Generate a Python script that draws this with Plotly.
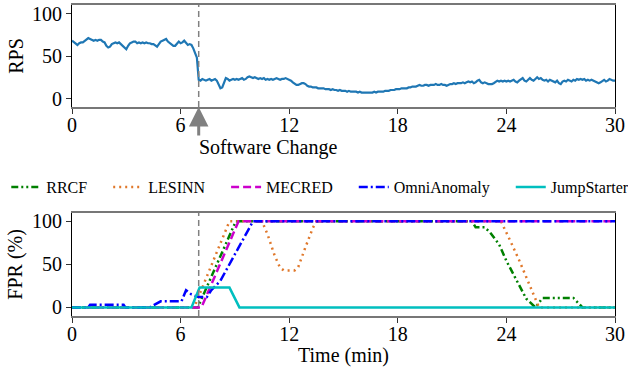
import numpy as np
import plotly.graph_objects as go

# ---------------- data ----------------
rps_values = [
    68, 66, 64, 63, 65, 66, 66, 68, 70, 71,
    70, 69, 68, 69, 68, 69, 69, 67, 66, 62,
    60, 61, 64, 65, 66, 65, 66, 64, 62, 60,
    58, 62, 65, 66, 67, 67, 65, 66, 65, 66,
    65, 66, 65, 65, 64, 64, 62, 61, 64, 67,
    68, 69, 70, 67, 65, 64, 62, 62, 65, 67,
    65, 66, 68, 66, 63, 64, 63, 59, 54, 48,
    22, 21, 23, 22, 21, 22, 23, 21, 22, 23,
    21, 16, 12, 13, 20, 24, 23, 21, 22, 23,
    22, 23, 22, 23, 24, 22, 23, 25, 26, 25,
    24, 25, 24, 23, 24, 23, 24, 22, 23, 22,
    23, 22, 23, 24, 23, 22, 23, 23, 24, 23,
    22, 21, 19, 17, 16, 16, 17, 18, 18, 17,
    15, 14, 14, 13, 13, 13, 12, 12, 12, 12,
    11, 11, 11, 10, 11, 10, 10, 9, 10, 9,
    9, 9, 8, 9, 8, 8, 8, 8, 7, 8,
    7, 7, 7, 7, 7, 7, 7, 8, 7, 8,
    8, 8, 8, 9, 9, 9, 10, 10, 10, 11,
    11, 11, 12, 12, 12, 12, 13, 13, 14, 14,
    14, 15, 16, 15, 15, 16, 16, 15, 16, 16,
    16, 17, 16, 16, 17, 16, 16, 15, 16, 17,
    17, 18, 17, 18, 18, 18, 19, 18, 19, 20,
    19, 20, 18, 19, 21, 22, 19, 18, 19, 18,
    17, 17, 17, 18, 20, 21, 20, 21, 20, 21,
    20, 21, 20, 21, 22, 20, 19, 21, 23, 24,
    21, 20, 22, 24, 22, 21, 23, 25, 23, 24,
    22, 21, 22, 20, 22, 21, 20, 19, 21, 18,
    17, 20, 21, 20, 22, 21, 20, 22, 21, 23,
    22, 23, 22, 23, 21, 22, 21, 22, 21, 20,
    19, 18, 19, 21, 22, 20, 21, 23, 22, 21,
    21,
]
rps_time = np.round(np.arange(len(rps_values)) * 0.1, 1)

methods = ["RRCF", "LESINN", "MECRED", "OmniAnomaly", "JumpStarter"]

rrcf_t = [0, 6.95, 9.05, 22.1, 22.3, 22.8, 23.1, 23.6, 24.0, 24.6, 25.1, 25.6, 26.0, 27.7, 28.2, 30]
rrcf_v = [0, 0, 100, 100, 93, 93, 87, 73, 54, 30, 10, 0, 11, 11, 0, 0]

lesinn_t = [0, 6.75, 8.7, 10.5, 10.8, 11.2, 11.5, 11.7, 12.3, 12.5, 12.9, 13.3, 13.5,
            23.7, 24.2, 24.7, 25.3, 25.8, 30]
lesinn_v = [0, 0, 100, 100, 85, 60, 46, 43, 43, 47, 70, 92, 100,
            100, 78, 55, 25, 0, 0]

mecred_t = [0, 7.15, 9.2, 30]
mecred_v = [0, 0, 100, 100]

omni_t = [0, 0.9, 1.0, 2.85, 2.95, 4.3, 4.9, 6.05, 6.3, 6.6, 7.0, 7.45, 7.7, 8.2, 10.0, 30]
omni_v = [0, 0, 3, 3, 0, 0, 7, 7, 20, 15, 12, 12, 20, 31, 100, 100]

jump_t = [0, 6.6, 7.05, 8.7, 9.25, 30]
jump_v = [0, 0, 23, 23, 0, 0]

fpr_series = [
    (rrcf_t, rrcf_v), (lesinn_t, lesinn_v), (mecred_t, mecred_v),
    (omni_t, omni_v), (jump_t, jump_v),
]
colors = ["#008000", "#e0782b", "#cc00cc", "#0000ff", "#00bfbf"]
dashes = ["7px,3px,2px,3px,2px,3px", "2px,4px", "8px,4px", "9px,3px,2px,3px", "solid"]

x_ticks = [0, 6, 12, 18, 24, 30]
y_ticks = [0, 50, 100]
change_time = 7

# ---------------- figure ----------------
FONT = "Liberation Serif"
PAD = "\u00a0" * 4
fig = go.Figure()

fig.add_trace(go.Scatter(x=rps_time, y=rps_values, mode="lines",
                         line=dict(color="#1f77b4", width=2.2),
                         showlegend=False, xaxis="x", yaxis="y"))

for i, (name, (t, v), c, d) in enumerate(zip(methods, fpr_series, colors, dashes)):
    label = name + (PAD if i < len(methods) - 1 else "")
    fig.add_trace(go.Scatter(x=t, y=v, mode="lines", name=label,
                             line=dict(color=c, width=2.5, dash=d),
                             xaxis="x2", yaxis="y2"))

axis_common = dict(ticks="outside", ticklen=5, tickwidth=1, tickcolor="#333",
                   showgrid=False, zeroline=False, automargin=False,
                   tickfont=dict(family=FONT, size=20, color="black"))

xdom = [72 / 628, 615 / 628]
fig.update_layout(
    width=628, height=367,
    margin=dict(l=0, r=0, t=0, b=0, autoexpand=False),
    paper_bgcolor="white", plot_bgcolor="white",
    font=dict(family=FONT, color="black"),
    xaxis=dict(domain=xdom, range=[0, 30], tickvals=x_ticks, anchor="y",
               showline=True, mirror=True, linecolor="#777", linewidth=2,
               ticklabelstandoff=-6, **axis_common),
    yaxis=dict(domain=[1 - 107 / 367, 1 - 5 / 367], range=[-10, 110], tickvals=y_ticks,
               anchor="x", showline=True, mirror=True, linecolor="black", linewidth=1,
               title=dict(text="RPS", font=dict(family=FONT, size=20), standoff=3),
               **axis_common),
    xaxis2=dict(domain=xdom, range=[0, 30], tickvals=x_ticks, anchor="y2",
                showline=True, mirror=True, linecolor="#777", linewidth=2,
                ticklabelstandoff=-6,
                title=dict(text="Time (min)", font=dict(family=FONT, size=20), standoff=2),
                **axis_common),
    yaxis2=dict(domain=[1 - 316 / 367, 1 - 212.7 / 367], range=[-10, 110], tickvals=y_ticks,
                anchor="x2", showline=True, mirror=True, linecolor="black", linewidth=1,
                title=dict(text="FPR (%)", font=dict(family=FONT, size=20), standoff=3),
                **axis_common),
    legend=dict(orientation="h", x=0.01, y=1 - 187 / 367, xanchor="left", yanchor="middle",
                font=dict(family=FONT, size=16), bgcolor="rgba(0,0,0,0)",
                itemwidth=30, tracegroupgap=0),
)

# vertical dashed change lines
for xr, yr in [("x", "y"), ("x2", "y2")]:
    fig.add_shape(type="line", xref=xr, yref=yr + " domain", x0=change_time, x1=change_time,
                  y0=0, y1=1, line=dict(color="#808080", width=1.5, dash="6px,4px"))

# arrow for software change
fig.add_annotation(x=change_time, y=-10, xref="x", yref="y", text="", showarrow=True,
                   ax=0, ay=30, arrowhead=2, arrowsize=1.3, arrowwidth=3,
                   arrowcolor="#808080")
fig.add_annotation(x=change_time, y=-10, xref="x", yref="y", text="Software Change",
                   showarrow=False, xanchor="left", yanchor="middle", xshift=-2, yshift=-40,
                   font=dict(family=FONT, size=20, color="black"))

fig.write_html("out.html")
